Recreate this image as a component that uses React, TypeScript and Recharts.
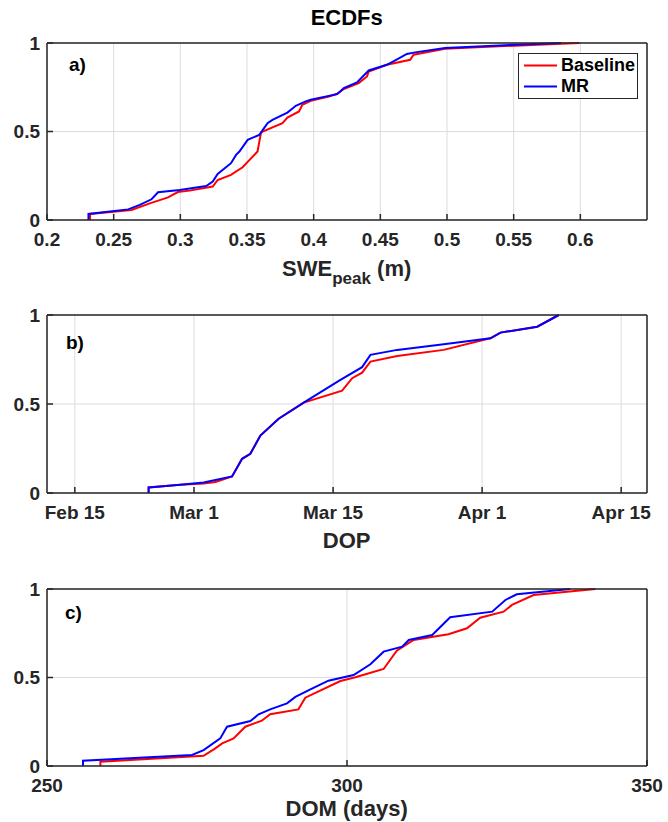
import React from 'react';
import { LineChart, Line, XAxis, YAxis, CartesianGrid, Legend } from 'recharts';

// ---------- data ----------
const yTicks = [0, 0.5, 1];
const yTickLabels = ['0', '0.5', '1'];

// Panel a) SWE_peak (m)
const sweTicks = [0.2, 0.25, 0.3, 0.35, 0.4, 0.45, 0.5, 0.55, 0.6];
const sweTickLabels = ['0.2', '0.25', '0.3', '0.35', '0.4', '0.45', '0.5', '0.55', '0.6'];
const sweBaselineX = [0.2323, 0.2323, 0.2634, 0.2771, 0.2908, 0.2982, 0.3069, 0.3243, 0.328, 0.338, 0.3467, 0.3579, 0.3604, 0.3617, 0.3766, 0.3803, 0.389, 0.3915, 0.3978, 0.4114, 0.4176, 0.4226, 0.4338, 0.44, 0.4413, 0.4549, 0.4724, 0.4749, 0.4985, 0.5507, 0.5855, 0.5993];
const sweBaselineY = [0, 0.034, 0.057, 0.094, 0.128, 0.158, 0.166, 0.189, 0.226, 0.255, 0.298, 0.387, 0.49, 0.5, 0.547, 0.579, 0.613, 0.651, 0.673, 0.698, 0.713, 0.74, 0.774, 0.811, 0.839, 0.877, 0.905, 0.934, 0.968, 0.985, 0.996, 1];
const sweMrX = [0.2311, 0.2311, 0.2609, 0.2696, 0.2784, 0.2833, 0.2995, 0.3194, 0.3243, 0.328, 0.338, 0.3418, 0.3443, 0.3505, 0.3592, 0.3654, 0.3691, 0.3803, 0.3866, 0.394, 0.3978, 0.4176, 0.4226, 0.4325, 0.4413, 0.4549, 0.4612, 0.4699, 0.4761, 0.4985, 0.5507, 0.5855];
const sweMrY = [0, 0.034, 0.06, 0.085, 0.117, 0.157, 0.17, 0.192, 0.217, 0.26, 0.321, 0.368, 0.387, 0.453, 0.481, 0.547, 0.566, 0.607, 0.645, 0.67, 0.679, 0.711, 0.745, 0.777, 0.845, 0.877, 0.902, 0.938, 0.947, 0.972, 0.99, 1];

// Panel b) DOP (days counted from the Feb 15 tick)
const dopTicks = [0, 12, 26, 41, 55];
const dopTickLabels = ['Feb 15', 'Mar 1', 'Mar 15', 'Apr 1', 'Apr 15'];
const dopBaselineX = [7.43, 7.43, 10.62, 12.97, 14.15, 15.83, 16.84, 17.67, 18.68, 20.52, 23.04, 26.91, 27.92, 28.92, 29.76, 32.45, 37.14, 41.51, 41.84, 42.85, 46.55, 48.72];
const dopBaselineY = [0, 0.031, 0.047, 0.053, 0.062, 0.093, 0.192, 0.22, 0.323, 0.417, 0.508, 0.575, 0.645, 0.676, 0.738, 0.77, 0.804, 0.865, 0.869, 0.901, 0.934, 1];
const dopMrX = [7.43, 7.43, 10.62, 12.97, 15.83, 16.84, 17.67, 18.68, 20.52, 23.04, 26.74, 28.92, 29.76, 32.45, 37.14, 41.84, 42.85, 46.55, 48.72];
const dopMrY = [0, 0.031, 0.047, 0.059, 0.093, 0.192, 0.22, 0.323, 0.417, 0.508, 0.635, 0.707, 0.776, 0.804, 0.836, 0.869, 0.901, 0.934, 1];

// Panel c) DOM (days)
const domTicks = [250, 300, 350];
const domTickLabels = ['250', '300', '350'];
const domBaselineX = [258.9, 258.9, 276.1, 278.05, 279.2, 281.1, 283.05, 285.8, 287.2, 291.9, 293.05, 298.9, 301.4, 306.1, 308.3, 311.1, 316.9, 320, 322.2, 326.1, 327.5, 331.1, 341.4];
const domBaselineY = [0, 0.024, 0.058, 0.1, 0.128, 0.156, 0.222, 0.256, 0.292, 0.32, 0.386, 0.48, 0.501, 0.548, 0.651, 0.712, 0.744, 0.778, 0.838, 0.872, 0.91, 0.966, 1];
const domMrX = [256, 256, 274.17, 276.1, 278.88, 280, 283.9, 285.27, 287.2, 290, 291.4, 293.9, 296.9, 301.1, 303.9, 306.1, 309.2, 310.3, 314.2, 317.2, 324.2, 326.4, 328.3, 337.2];
const domMrY = [0, 0.03, 0.062, 0.09, 0.156, 0.222, 0.254, 0.292, 0.32, 0.354, 0.39, 0.433, 0.482, 0.514, 0.575, 0.646, 0.674, 0.712, 0.74, 0.84, 0.872, 0.938, 0.97, 1];

const seriesNames = ['Baseline', 'MR'];

// ---------- style ----------
const FONT = '"Liberation Sans", Arial, Helvetica, sans-serif';
const AXIS = '#262626';
const GRID = '#dcdcdc';
const RED = '#ff0000';
const BLUE = '#0000ff';

const zip = (xs: number[], ys: number[]) => xs.map((x, i) => ({ x, y: ys[i] }));

const tickStyle = { fill: AXIS, fontFamily: FONT, fontWeight: 700, fontSize: 19 };

function LegendBox() {
  const row = (color: string, label: string) => (
    <div style={{ display: 'flex', alignItems: 'center', height: 21 }}>
      <svg width={40} height={21} style={{ display: 'block' }}>
        <line x1={5} x2={38} y1={10.5} y2={10.5} stroke={color} strokeWidth={2} />
      </svg>
      <span style={{ fontFamily: FONT, fontWeight: 700, fontSize: 18, color: '#000', lineHeight: '21px', marginLeft: 2 }}>{label}</span>
    </div>
  );
  return (
    <div style={{ boxSizing: 'border-box', width: 120, height: 46, border: `1.5px solid ${AXIS}`, background: '#fff', paddingTop: 1 }}>
      {row(RED, seriesNames[0])}
      {row(BLUE, seriesNames[1])}
    </div>
  );
}

type PanelProps = {
  top: number;
  chartHeight: number;
  marginTop: number;
  axisHeight: number;
  xDomain: [number, number];
  xTicks: number[];
  xTickLabels: string[];
  baseline: { x: number; y: number }[];
  mr: { x: number; y: number }[];
  legend?: boolean;
};

function Panel(p: PanelProps) {
  const fmtX = (v: number) => {
    const i = p.xTicks.indexOf(v);
    return i >= 0 ? p.xTickLabels[i] : '';
  };
  const fmtY = (v: number) => {
    const i = yTicks.indexOf(v);
    return i >= 0 ? yTickLabels[i] : '';
  };
  return (
    <div style={{ position: 'absolute', left: 0, top: p.top, width: 668, height: p.chartHeight }}>
      <LineChart width={668} height={p.chartHeight} margin={{ top: p.marginTop, right: 20, bottom: 0, left: 7 }}>
        <CartesianGrid stroke={GRID} strokeWidth={1} />
        <XAxis
          type="number"
          dataKey="x"
          domain={p.xDomain}
          allowDataOverflow
          ticks={p.xTicks}
          interval={0}
          tickFormatter={fmtX}
          height={p.axisHeight}
          tickSize={-6}
          tickMargin={19}
          tick={tickStyle}
          axisLine={{ stroke: AXIS, strokeWidth: 1.5 }}
          tickLine={{ stroke: AXIS, strokeWidth: 1.5 }}
        />
        <XAxis
          xAxisId="top"
          orientation="top"
          type="number"
          dataKey="x"
          domain={p.xDomain}
          allowDataOverflow
          ticks={p.xTicks}
          interval={0}
          height={1}
          tickSize={-6}
          tick={false}
          axisLine={{ stroke: AXIS, strokeWidth: 1.5 }}
          tickLine={{ stroke: AXIS, strokeWidth: 1.5 }}
        />
        <YAxis
          type="number"
          domain={[0, 1]}
          ticks={yTicks}
          interval={0}
          tickFormatter={fmtY}
          width={40}
          tickSize={-6}
          tickMargin={13}
          tick={tickStyle}
          axisLine={{ stroke: AXIS, strokeWidth: 1.5 }}
          tickLine={{ stroke: AXIS, strokeWidth: 1.5 }}
        />
        <YAxis
          yAxisId="right"
          orientation="right"
          type="number"
          domain={[0, 1]}
          ticks={yTicks}
          interval={0}
          width={1}
          tickSize={-6}
          tick={false}
          axisLine={{ stroke: AXIS, strokeWidth: 1.5 }}
          tickLine={{ stroke: AXIS, strokeWidth: 1.5 }}
        />
        <Line data={p.baseline} dataKey="y" name={seriesNames[0]} type="linear" stroke={RED} strokeWidth={2} dot={false} activeDot={false} isAnimationActive={false} />
        <Line data={p.mr} dataKey="y" name={seriesNames[1]} type="linear" stroke={BLUE} strokeWidth={2} dot={false} activeDot={false} isAnimationActive={false} />
        {p.legend && (
          <Legend
            layout="horizontal"
            verticalAlign="middle"
            align="center"
            wrapperStyle={{ left: 518, top: 53, width: 120, height: 46 }}
            content={() => <LegendBox />}
          />
        )}
      </LineChart>
    </div>
  );
}

const textStyle = { fontFamily: FONT, fontWeight: 700, fill: AXIS } as const;

export default function App() {
  return (
    <div style={{ position: 'absolute', left: 0, top: 0, width: 668, height: 822, background: '#fff', overflow: 'hidden' }}>
      <Panel
        top={0}
        chartHeight={280}
        marginTop={42}
        axisHeight={60}
        xDomain={[0.2, 0.65]}
        xTicks={sweTicks}
        xTickLabels={sweTickLabels}
        baseline={zip(sweBaselineX, sweBaselineY)}
        mr={zip(sweMrX, sweMrY)}
        legend
      />
      <Panel
        top={280}
        chartHeight={273}
        marginTop={34}
        axisHeight={60}
        xDomain={[-2.8, 57.6]}
        xTicks={dopTicks}
        xTickLabels={dopTickLabels}
        baseline={zip(dopBaselineX, dopBaselineY)}
        mr={zip(dopMrX, dopMrY)}
      />
      <Panel
        top={553}
        chartHeight={269}
        marginTop={35}
        axisHeight={56}
        xDomain={[250, 350]}
        xTicks={domTicks}
        xTickLabels={domTickLabels}
        baseline={zip(domBaselineX, domBaselineY)}
        mr={zip(domMrX, domMrY)}
      />
      <svg width={668} height={822} style={{ position: 'absolute', left: 0, top: 0, pointerEvents: 'none' }}>
        <text x={346.7} y={25} textAnchor="middle" fontSize={22} {...textStyle} fill="#000">ECDFs</text>
        <text x={69} y={71} fontSize={19} {...textStyle} fill="#000">a)</text>
        <text x={66} y={349} fontSize={19} {...textStyle} fill="#000">b)</text>
        <text x={65} y={619} fontSize={19} {...textStyle} fill="#000">c)</text>
        <text x={346.7} y={276} textAnchor="middle" fontSize={22} {...textStyle}>
          SWE<tspan dy={8} fontSize={17}>peak</tspan><tspan dy={-8} fontSize={22}> (m)</tspan>
        </text>
        <text x={346.7} y={548} textAnchor="middle" fontSize={22} {...textStyle}>DOP</text>
        <text x={346.7} y={816} textAnchor="middle" fontSize={22} {...textStyle}>DOM (days)</text>
      </svg>
    </div>
  );
}
